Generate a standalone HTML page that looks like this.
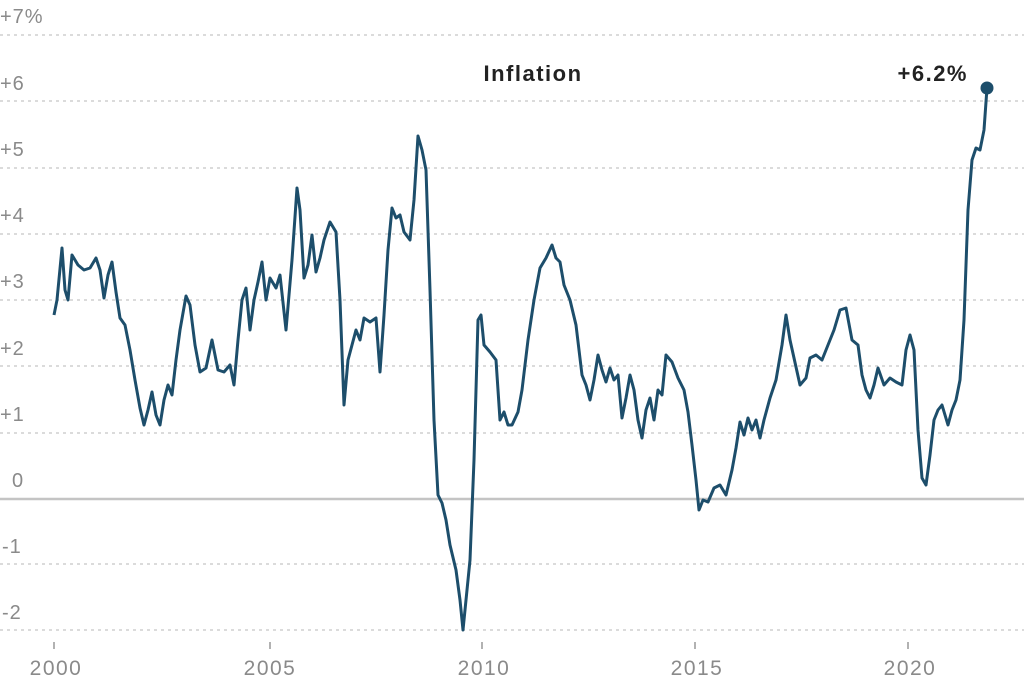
<!DOCTYPE html>
<html><head><meta charset="utf-8"><style>
body{margin:0;background:#fff;width:1024px;height:681px;overflow:hidden}
svg{display:block}
text{font-family:"Liberation Sans",sans-serif}
</style></head><body>
<svg width="1024" height="681" viewBox="0 0 1024 681">
<g stroke="#cfcfcf" stroke-width="1.5" stroke-dasharray="3,4">
<line x1="0" x2="1024" y1="35" y2="35"/>
<line x1="0" x2="1024" y1="101" y2="101"/>
<line x1="0" x2="1024" y1="168" y2="168"/>
<line x1="0" x2="1024" y1="234" y2="234"/>
<line x1="0" x2="1024" y1="300" y2="300"/>
<line x1="0" x2="1024" y1="366" y2="366"/>
<line x1="0" x2="1024" y1="433" y2="433"/>
<line x1="0" x2="1024" y1="564" y2="564"/>
<line x1="0" x2="1024" y1="630" y2="630"/>
</g>
<line x1="0" x2="1024" y1="499" y2="499" stroke="#c4c4c4" stroke-width="2.5"/>
<g fill="#8a8a8a" font-size="20" letter-spacing="1">
<text x="0" y="23">+7%</text>
<text x="0" y="90">+6</text>
<text x="0" y="156">+5</text>
<text x="0" y="222">+4</text>
<text x="0" y="288">+3</text>
<text x="0" y="355">+2</text>
<text x="0" y="421">+1</text>
<text x="12" y="487">0</text>
<text x="2" y="553">-1</text>
<text x="2" y="619">-2</text>
</g>
<g stroke="#999" stroke-width="1.5">
<line x1="54" x2="54" y1="642" y2="649"/><line x1="270" x2="270" y1="642" y2="649"/><line x1="482" x2="482" y1="642" y2="649"/><line x1="695" x2="695" y1="642" y2="649"/><line x1="908" x2="908" y1="642" y2="649"/>
</g>
<g fill="#8a8a8a" font-size="21" letter-spacing="1.5" text-anchor="middle">
<text x="56" y="675">2000</text><text x="270" y="675">2005</text><text x="484" y="675">2010</text><text x="697" y="675">2015</text><text x="910" y="675">2020</text>
</g>
<polyline fill="none" stroke="#1d4e6b" stroke-width="3" stroke-linejoin="round" points="54,315 57,300 62,248 65,290 68,300 72,255 78,265 84,270 90,268 96,258 100,270 104,298 108,275 112,262 116,292 120,318 125,325 130,350 135,380 140,408 144,425 148,410 152,392 156,415 160,425 164,400 168,385 172,395 176,360 180,330 186,296 190,305 195,345 200,372 206,368 212,340 218,370 224,372 230,365 234,385 238,340 242,300 246,288 250,330 254,300 258,282 262,262 266,300 270,278 276,288 280,275 286,330 292,260 297,188 300,210 304,278 308,265 312,235 316,272 320,258 324,240 330,222 336,232 340,300 344,405 348,360 352,345 356,330 360,340 364,318 370,322 376,318 380,372 384,315 388,250 392,208 396,218 400,215 404,232 410,240 414,200 418,136 422,150 426,170 430,290 434,420 438,495 442,503 446,520 450,545 456,570 460,600 463,630 466,600 470,560 474,460 478,320 481,315 484,345 490,352 496,360 500,420 504,412 508,425 512,425 518,412 522,390 528,340 534,300 540,268 546,258 552,245 556,258 560,262 564,285 570,300 576,325 582,375 586,385 590,400 594,380 598,355 602,370 606,382 610,368 614,380 618,375 622,418 626,398 630,375 634,390 638,420 642,438 646,410 650,398 654,420 658,390 662,395 666,355 672,362 678,378 684,390 688,412 692,445 696,480 699,510 703,500 708,502 714,488 720,485 726,495 732,470 736,448 740,422 744,435 748,418 752,430 756,420 760,438 764,420 770,398 776,380 782,345 786,315 790,340 794,358 800,385 806,378 810,358 816,355 822,360 828,345 834,330 840,310 846,308 852,340 858,345 862,375 866,390 870,398 874,385 878,368 884,385 890,378 896,382 902,385 906,350 910,335 914,350 918,430 922,478 926,485 930,455 934,420 938,410 942,405 948,425 952,410 956,400 960,380 964,320 968,210 972,160 976,148 980,150 984,130 987,88"/>
<circle cx="987" cy="88" r="6.5" fill="#1d4e6b"/>
<text x="533" y="81" font-size="22" font-weight="bold" letter-spacing="1.5" fill="#222" text-anchor="middle">Inflation</text>
<text x="968" y="81" font-size="22" font-weight="bold" letter-spacing="1.5" fill="#222" text-anchor="end">+6.2%</text>
</svg>
</body></html>
